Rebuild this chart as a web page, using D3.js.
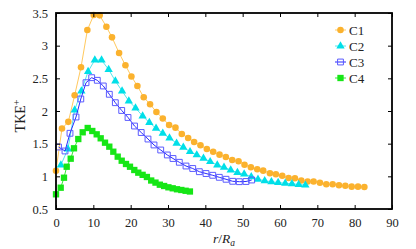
<!DOCTYPE html>
<html><head><meta charset="utf-8">
<script src="https://cdn.jsdelivr.net/npm/d3@7"></script>
<style>
html,body{margin:0;padding:0;background:#fff;}
svg{display:block;font-family:"Liberation Serif","Times New Roman",serif;}
</style></head>
<body><svg id="c" width="416" height="249"></svg>
<script>
const xTicks=[0,10,20,30,40,50,60,70,80,90];
const yTicks=[0.5,1,1.5,2,2.5,3,3.5];
const seriesNames=["C1","C2","C3","C4"];

const c1x=[0,1.6,3.3,5.0,6.7,8.4,10.1,11.7,13.5,15.0,16.9,18.6,20.2,21.8,23.5,25.2,26.9,28.6,30.3,32.0,33.7,35.4,37.0,38.7,40.4,42.1,43.8,45.5,47.2,48.9,50.5,52.2,53.9,55.5,57.3,58.9,60.6,62.3,64.0,65.7,67.4,69.0,70.7,72.4,74.1,75.8,77.5,79.2,80.9,82.6];
const c1y=[1.086,1.732,1.834,2.241,2.669,3.239,3.469,3.464,3.289,3.127,2.888,2.700,2.529,2.383,2.210,2.103,1.985,1.886,1.786,1.745,1.648,1.587,1.526,1.476,1.419,1.376,1.332,1.296,1.250,1.230,1.178,1.138,1.108,1.087,1.047,1.032,1.010,0.975,0.970,0.936,0.921,0.921,0.903,0.879,0.879,0.863,0.857,0.842,0.842,0.837];

const c2x=[1.3,3.2,5.0,6.8,8.6,10.4,12.2,14.1,15.9,17.7,19.5,21.3,23.2,25.0,26.8,28.6,30.4,32.3,34.1,35.9,37.7,39.5,41.3,43.2,45.0,46.8,48.6,50.4,52.3,54.1,55.9,57.7,59.5,61.4,63.2,65.0,66.8];
const c2y=[1.173,1.418,2.015,2.306,2.605,2.781,2.778,2.635,2.459,2.306,2.153,2.046,1.923,1.824,1.735,1.659,1.587,1.506,1.444,1.377,1.327,1.276,1.224,1.173,1.138,1.097,1.056,1.036,0.994,0.955,0.932,0.916,0.906,0.893,0.886,0.875,0.864];

const c3x=[0.67,2.41,3.75,5.36,6.64,8.04,9.56,11.06,12.67,14.28,15.89,17.6,19.29,21.03,22.82,24.64,26.25,28.05,29.82,31.34,33.03,34.82,36.62,38.39,40.18,41.98,43.74,45.54,47.33,49.1,50.9,52.42];
const c3y=[1.449,1.388,1.659,1.908,2.184,2.433,2.510,2.470,2.383,2.256,2.127,2.008,1.901,1.770,1.671,1.571,1.480,1.403,1.327,1.273,1.215,1.158,1.120,1.071,1.043,1.016,0.985,0.955,0.924,0.918,0.921,0.944];

const c4x=[0,1.26,2.14,2.87,3.94,4.82,5.97,7.15,8.49,9.72,10.9,11.97,13.13,14.28,15.35,16.53,17.6,18.75,19.82,20.97,22.04,23.2,24.35,25.5,26.65,27.81,28.96,30.11,31.26,32.41,33.57,34.72,35.87];
const c4y=[0.725,0.826,0.979,1.147,1.270,1.429,1.571,1.674,1.740,1.694,1.643,1.582,1.515,1.454,1.377,1.301,1.239,1.189,1.147,1.097,1.056,1.023,0.990,0.936,0.904,0.872,0.852,0.832,0.817,0.802,0.791,0.779,0.768];

const svg=d3.select("#c");
const L=56,R=392,T=13,B=209;
const x=d3.scaleLinear().domain([0,90]).range([L,R]);
const y=d3.scaleLinear().domain([0.5,3.5]).range([B,T]);

const styles=[
 {name:"C1",xs:c1x,ys:c1y,line:"#ffc95e",mark:"#fbb22e",sym:d3.symbolCircle,size:34,fill:true},
 {name:"C2",xs:c2x,ys:c2y,line:"#55e8ee",mark:"#00dfe8",sym:d3.symbolTriangle,size:30,fill:true},
 {name:"C3",xs:c3x,ys:c3y,line:"#2a2aff",mark:"#5a5aff",sym:d3.symbolSquare,size:34,fill:false},
 {name:"C4",xs:c4x,ys:c4y,line:"#33ee33",mark:"#16e616",sym:d3.symbolSquare,size:40,fill:true}
];

const g=svg.append("g");
styles.forEach(s=>{
  const pts=s.xs.map((v,i)=>[v,s.ys[i]]);
  g.append("path").datum(pts)
   .attr("fill","none").attr("stroke",s.line).attr("stroke-width",1)
   .attr("d",d3.line().x(d=>x(d[0])).y(d=>y(d[1])));
  g.selectAll(null).data(pts).enter().append("path")
   .attr("transform",d=>`translate(${x(d[0])},${y(d[1])})`)
   .attr("d",d3.symbol().type(s.sym).size(s.size))
   .attr("fill",s.fill?s.mark:"none")
   .attr("stroke",s.fill?"none":s.mark).attr("stroke-width",1);
});

// axes with inward ticks
const fs="12.5px";
const ax=svg.append("g").attr("transform",`translate(0,${B})`)
 .call(d3.axisBottom(x).tickValues(xTicks).tickSize(-4).tickPadding(9).tickFormat(d3.format("d")));
const axT=svg.append("g").attr("transform",`translate(0,${T})`)
 .call(d3.axisTop(x).tickValues(xTicks).tickSize(-4).tickFormat(""));
const ay=svg.append("g").attr("transform",`translate(${L},0)`)
 .call(d3.axisLeft(y).tickValues(yTicks).tickSize(-4).tickPadding(8).tickFormat(d=>String(d)));
const ayR=svg.append("g").attr("transform",`translate(${R},0)`)
 .call(d3.axisRight(y).tickValues(yTicks).tickSize(-4).tickFormat(""));
[ax,axT,ay,ayR].forEach(a=>{
  a.select(".domain").remove();
  a.selectAll("line").attr("stroke","#000").attr("stroke-width",1);
  a.selectAll("text").attr("font-family","Liberation Serif").attr("font-size",fs).attr("fill","#222");
});
svg.append("rect").attr("x",L).attr("y",T).attr("width",R-L).attr("height",B-T)
 .attr("fill","none").attr("stroke","#000").attr("stroke-width",1.8);

// axis titles
const xt=svg.append("text").attr("x",(L+R)/2).attr("y",243).attr("text-anchor","middle")
 .attr("font-family","Liberation Serif").attr("font-size","13.5px").attr("font-style","italic").attr("fill","#222");
xt.append("tspan").text("r");
xt.append("tspan").attr("font-style","normal").text("/");
xt.append("tspan").text("R");
xt.append("tspan").attr("font-size","9.5px").attr("dy",3).text("a");

const yt=svg.append("text").attr("transform","translate(25,116) rotate(-90)").attr("text-anchor","middle")
 .attr("font-family","Liberation Serif").attr("font-size","14px").attr("fill","#222");
yt.append("tspan").text("TKE");
yt.append("tspan").attr("font-size","10px").attr("dy",-5).text("+");

// legend
const lg=svg.append("g");
styles.forEach((s,i)=>{
  const cy=30+i*16;
  lg.append("line").attr("x1",335).attr("x2",346).attr("y1",cy).attr("y2",cy).attr("stroke",s.line).attr("stroke-width",1);
  lg.append("path").attr("transform",`translate(340.5,${cy})`)
   .attr("d",d3.symbol().type(s.sym).size(s.size))
   .attr("fill",s.fill?s.mark:"none").attr("stroke",s.fill?"none":s.mark);
  lg.append("text").attr("x",349).attr("y",cy+4.5).attr("font-family","Liberation Serif")
   .attr("font-size","13px").attr("fill","#222").text(s.name);
});
</script></body></html>
